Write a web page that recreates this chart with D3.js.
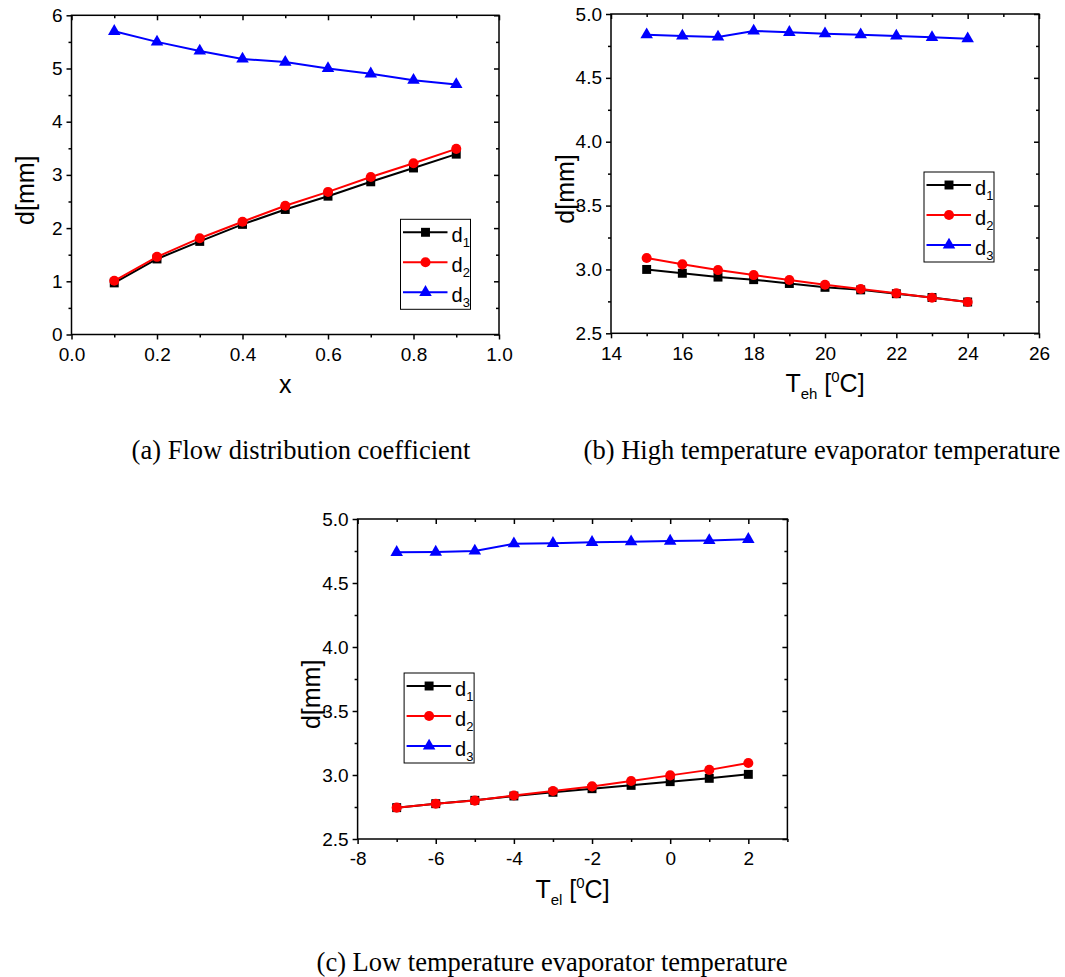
<!DOCTYPE html>
<html>
<head>
<meta charset="utf-8">
<script src="https://cdn.jsdelivr.net/npm/d3@7"></script>
<style>
  body { margin: 0; background: #fff; }
  text { font-family: 'Liberation Sans', Arial, sans-serif; fill: #000; }
  .caption { font-family: 'Liberation Serif', 'Times New Roman', serif; font-size: 26.5px; }
</style>
</head>
<body>
<script>
// values
// (a) flow distribution coefficient
const xFlow = [0.1, 0.2, 0.3, 0.4, 0.5, 0.6, 0.7, 0.8, 0.9]
const d1Flow = [0.97, 1.42, 1.75, 2.07, 2.35, 2.60, 2.87, 3.13, 3.39]
const d2Flow = [1.01, 1.46, 1.81, 2.12, 2.42, 2.68, 2.96, 3.22, 3.49]
const d3Flow = [5.70, 5.50, 5.33, 5.18, 5.12, 5.00, 4.90, 4.78, 4.70]

// (b) high temperature evaporator
const tHigh = [15, 16, 17, 18, 19, 20, 21, 22, 23, 24]
const d1High = [3.00, 2.97, 2.94, 2.92, 2.89, 2.86, 2.84, 2.81, 2.78, 2.745]
const d2High = [3.09, 3.04, 2.995, 2.956, 2.917, 2.88, 2.847, 2.813, 2.778, 2.745]
const d3High = [4.838, 4.828, 4.82, 4.867, 4.857, 4.846, 4.838, 4.828, 4.817, 4.807]

// (c) low temperature evaporator
const tLow = [-7, -6, -5, -4, -3, -2, -1, 0, 1, 2]
const d1Low = [2.745, 2.776, 2.802, 2.836, 2.865, 2.893, 2.919, 2.948, 2.974, 3.005]
const d2Low = [2.745, 2.776, 2.80, 2.84, 2.875, 2.911, 2.953, 2.997, 3.04, 3.094]
const d3Low = [4.74, 4.742, 4.75, 4.807, 4.81, 4.818, 4.823, 4.828, 4.833, 4.841]

// series labels (d + subscript) and ticks
const seriesSubs = ['1', '2', '3']
const xTicksFlow = [0, 0.2, 0.4, 0.6, 0.8, 1.0]
const xMinorFlow = [0.1, 0.3, 0.5, 0.7, 0.9]
const yTicksFlow = [0, 1, 2, 3, 4, 5, 6]
const yMinorFlow = [0.5, 1.5, 2.5, 3.5, 4.5, 5.5]
const xTicksHigh = [14, 16, 18, 20, 22, 24, 26]
const xMinorHigh = [15, 17, 19, 21, 23, 25]
const xTicksLow = [-8, -6, -4, -2, 0, 2]
const xMinorLow = [-7, -5, -3, -1, 1, 3]
const yTicksTemp = [2.5, 3.0, 3.5, 4.0, 4.5, 5.0]
const yMinorTemp = [2.75, 3.25, 3.75, 4.25, 4.75]

const captions = [
  '(a) Flow distribution coefficient',
  '(b) High temperature evaporator temperature',
  '(c) Low temperature evaporator temperature'
]

;(() => {
  const colors = ['#000000', '#ff0000', '#0000ff']
  const symbols = [
    d3.symbol().type(d3.symbolSquare).size(80),
    d3.symbol().type(d3.symbolCircle).size(80),
    d3.symbol().type(d3.symbolTriangle).size(68)
  ]

  const svg = d3
    .select('body')
    .append('svg')
    .attr('width', 1065)
    .attr('height', 977)
    .style('background', '#fff')

  const panels = [
    {
      left: 71.5, top: 15.3, width: 427.5, height: 319.2,
      xs: xFlow, ys: [d1Flow, d2Flow, d3Flow],
      xDomain: [0, 1], yDomain: [0, 6],
      xTicks: xTicksFlow, xMinor: xMinorFlow, yTicks: yTicksFlow, yMinor: yMinorFlow,
      xFmt: d3.format('.1f'), yFmt: d => String(d),
      xLabel: 'x', legend: [329, 204],
      caption: captions[0], capX: 301, capY: 459
    },
    {
      left: 611, top: 14, width: 428, height: 319.3,
      xs: tHigh, ys: [d1High, d2High, d3High],
      xDomain: [14, 26], yDomain: [2.5, 5.0],
      xTicks: xTicksHigh, xMinor: xMinorHigh, yTicks: yTicksTemp, yMinor: yMinorTemp,
      xFmt: d => String(d), yFmt: d3.format('.1f'),
      xLabel: ['T', 'eh'], legend: [313, 158],
      caption: captions[1], capX: 822, capY: 459
    },
    {
      left: 357.6, top: 519, width: 429.8, height: 320,
      xs: tLow, ys: [d1Low, d2Low, d3Low],
      xDomain: [-8, 3], yDomain: [2.5, 5.0],
      xTicks: xTicksLow, xMinor: xMinorLow, yTicks: yTicksTemp, yMinor: yMinorTemp,
      xFmt: d => String(d), yFmt: d3.format('.1f'),
      xLabel: ['T', 'el'], legend: [46.5, 154],
      caption: captions[2], capX: 552, capY: 971
    }
  ]

  const drawPanel = p => {
    const g = svg.append('g').attr('transform', `translate(${p.left},${p.top})`)
    const x = d3.scaleLinear().domain(p.xDomain).range([0, p.width])
    const y = d3.scaleLinear().domain(p.yDomain).range([p.height, 0])

    // major + minor ticks: bottom/left point out, top/right point in
    const addAxis = (axis, tr) => {
      const a = g.append('g').attr('transform', tr).call(axis)
      a.select('.domain').remove()
      a.selectAll('line').attr('stroke-width', 1.5)
      a.selectAll('text').style('font-size', '19px')
      return a
    }
    addAxis(d3.axisBottom(x).tickValues(p.xTicks).tickSize(5).tickPadding(8).tickFormat(p.xFmt), `translate(0,${p.height})`)
    addAxis(d3.axisBottom(x).tickValues(p.xMinor).tickSize(3).tickFormat(''), `translate(0,${p.height})`)
    addAxis(d3.axisLeft(y).tickValues(p.yTicks).tickSize(5).tickPadding(4).tickFormat(p.yFmt), 'translate(0,0)')
    addAxis(d3.axisLeft(y).tickValues(p.yMinor).tickSize(3).tickFormat(''), 'translate(0,0)')
    addAxis(d3.axisTop(x).tickValues(p.xTicks).tickSize(-5).tickFormat(''), 'translate(0,0)')
    addAxis(d3.axisTop(x).tickValues(p.xMinor).tickSize(-3).tickFormat(''), 'translate(0,0)')
    addAxis(d3.axisRight(y).tickValues(p.yTicks).tickSize(-5).tickFormat(''), `translate(${p.width},0)`)
    addAxis(d3.axisRight(y).tickValues(p.yMinor).tickSize(-3).tickFormat(''), `translate(${p.width},0)`)

    // frame
    g.append('rect')
      .attr('width', p.width)
      .attr('height', p.height)
      .attr('fill', 'none')
      .attr('stroke', '#000')
      .attr('stroke-width', 1.5)

    // series lines and markers
    const line = d3.line().x(d => x(d[0])).y(d => y(d[1]))
    p.ys.forEach((vals, k) => {
      const pts = p.xs.map((v, i) => [v, vals[i]])
      g.append('path')
        .datum(pts)
        .attr('d', line)
        .attr('fill', 'none')
        .attr('stroke', colors[k])
        .attr('stroke-width', 2)
      g.selectAll('.m' + k)
        .data(pts)
        .enter()
        .append('path')
        .attr('class', 'm' + k)
        .attr('d', symbols[k])
        .attr('transform', d => `translate(${x(d[0])},${y(d[1])})`)
        .attr('fill', colors[k])
    })

    // y title
    g.append('text')
      .attr('transform', `translate(-46,${p.height * 0.548}) rotate(-90)`)
      .attr('text-anchor', 'middle')
      .attr('dy', '0.35em')
      .style('font-size', '25px')
      .text('d[mm]')

    // x title
    const xt = g.append('text')
      .attr('x', p.width / 2)
      .attr('y', p.height + 59)
      .attr('text-anchor', 'middle')
      .style('font-size', '25px')
    if (typeof p.xLabel === 'string') {
      xt.text(p.xLabel)
    } else {
      xt.append('tspan').text(p.xLabel[0])
      xt.append('tspan').attr('dy', 7).style('font-size', '15px').text(p.xLabel[1])
      xt.append('tspan').attr('dy', -7).text(' [')
      xt.append('tspan').attr('dy', -10).style('font-size', '15px').text('0')
      xt.append('tspan').attr('dy', 10).text('C]')
    }

    // legend
    const lg = g.append('g').attr('transform', `translate(${p.legend[0]},${p.legend[1]})`)
    lg.append('rect')
      .attr('width', 70)
      .attr('height', 90)
      .attr('fill', '#fff')
      .attr('stroke', '#000')
      .attr('stroke-width', 1)
    seriesSubs.forEach((s, k) => {
      const ry = 13 + k * 30
      lg.append('line')
        .attr('x1', 2.5).attr('x2', 47)
        .attr('y1', ry).attr('y2', ry)
        .attr('stroke', colors[k])
        .attr('stroke-width', 2)
      lg.append('path')
        .attr('d', symbols[k])
        .attr('transform', `translate(25,${ry})`)
        .attr('fill', colors[k])
      const t = lg.append('text').attr('x', 51).attr('y', ry + 10).style('font-size', '20px')
      t.append('tspan').text('d')
      t.append('tspan').attr('dy', 5).style('font-size', '13px').text(s)
    })

    // caption under the panel
    svg.append('text')
      .attr('class', 'caption')
      .attr('x', p.capX)
      .attr('y', p.capY)
      .attr('text-anchor', 'middle')
      .style('font-family', "'Liberation Serif', 'Times New Roman', serif")
      .text(p.caption)
  }

  panels.forEach(drawPanel)
})()
</script>
</body>
</html>
